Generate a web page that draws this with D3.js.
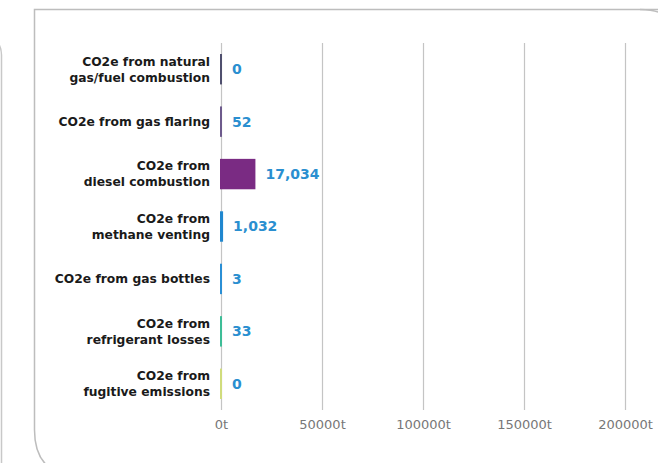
<!DOCTYPE html>
<html>
<head>
<meta charset="utf-8">
<script src="https://cdn.jsdelivr.net/npm/d3@7"></script>
<style>
  body { margin: 0; background: #fff; }
  svg { display: block; }
</style>
</head>
<body>
<svg id="chart"></svg>
<script>
// chart data
const categories = [
  ["CO2e from natural", "gas/fuel combustion"],
  ["CO2e from gas flaring"],
  ["CO2e from", "diesel combustion"],
  ["CO2e from", "methane venting"],
  ["CO2e from gas bottles"],
  ["CO2e from", "refrigerant losses"],
  ["CO2e from", "fugitive emissions"]
];
const values = [0, 52, 17034, 1032, 3, 33, 0];
const barColors = ["#4f4f6e", "#6d5a8c", "#7a2b83", "#1f87cf", "#2a8fd5", "#3dbd97", "#d0dc7c"];
const tickValues = [0, 50000, 100000, 150000, 200000];

const width = 658, height = 463;

const svg = d3.select("#chart")
  .attr("width", width)
  .attr("height", height);

// card outlines
svg.append("path")
  .attr("d", "M -30 33.5 Q 1.5 33.5 1.5 55 V 480")
  .attr("fill", "none")
  .attr("stroke", "#c8c8c8")
  .attr("stroke-width", 1.5);

svg.append("path")
  .attr("d", "M 700 9.5 H 34.5 V 430 Q 34.5 470 70 476")
  .attr("fill", "none")
  .attr("stroke", "#bdbdbd")
  .attr("stroke-width", 1.5);
svg.append("path")
  .attr("d", "M 640 9.5 Q 655 9.5 662 14")
  .attr("fill", "none")
  .attr("stroke", "#bdbdbd")
  .attr("stroke-width", 1.5);

const x = d3.scaleLinear()
  .domain([0, 200000])
  .range([221, 625]);

const y = d3.scaleBand()
  .domain(d3.range(categories.length))
  .range([43, 410])
  .paddingInner(0.42)
  .paddingOuter(0.21);

// gridlines + tick labels
const xAxis = d3.axisBottom(x)
  .tickValues(tickValues)
  .tickSize(-(410 - 43))
  .tickFormat(d => d + "t");

const gx = svg.append("g")
  .attr("transform", "translate(0,410)")
  .call(xAxis);
gx.select(".domain").remove();
gx.selectAll(".tick line")
  .attr("stroke", "#c4c4c4")
  .attr("stroke-width", 1.2);
gx.selectAll(".tick text")
  .attr("y", 10)
  .attr("dy", "0.71em")
  .attr("fill", "#777")
  .style("font-family", "'DejaVu Sans', sans-serif")
  .style("font-size", "13px");

// bars
svg.selectAll(".bar")
  .data(values)
  .enter().append("rect")
  .attr("class", "bar")
  .attr("x", x(0) - 1)
  .attr("y", (d, i) => y(i))
  .attr("width", d => Math.max(2, x(d) - x(0) + 1))
  .attr("height", y.bandwidth())
  .attr("fill", (d, i) => barColors[i]);

// value labels
svg.selectAll(".val")
  .data(values)
  .enter().append("text")
  .attr("class", "val")
  .attr("x", d => Math.max(x(0) + 1, x(d)) + 10)
  .attr("y", (d, i) => y(i) + y.bandwidth() / 2)
  .attr("dy", "0.35em")
  .attr("fill", "#2a8fd0")
  .style("font-family", "'DejaVu Sans', sans-serif")
  .style("font-weight", "bold")
  .style("font-size", "14px")
  .text(d => d3.format(",")(d));

// category labels
const lab = svg.selectAll(".cat")
  .data(categories)
  .enter().append("text")
  .attr("class", "cat")
  .attr("text-anchor", "end")
  .attr("fill", "#1a1a1a")
  .style("font-family", "'DejaVu Sans', sans-serif")
  .style("font-weight", "bold")
  .style("font-size", "12.3px")
  .attr("transform", (d, i) => `translate(210,${y(i) + y.bandwidth() / 2})`);

lab.selectAll("tspan")
  .data(d => d.map((t, j) => ({t, j, n: d.length})))
  .enter().append("tspan")
  .attr("x", 0)
  .attr("y", d => (d.j - (d.n - 1) / 2) * 16)
  .attr("dy", "0.35em")
  .text(d => d.t);
</script>
</body>
</html>
